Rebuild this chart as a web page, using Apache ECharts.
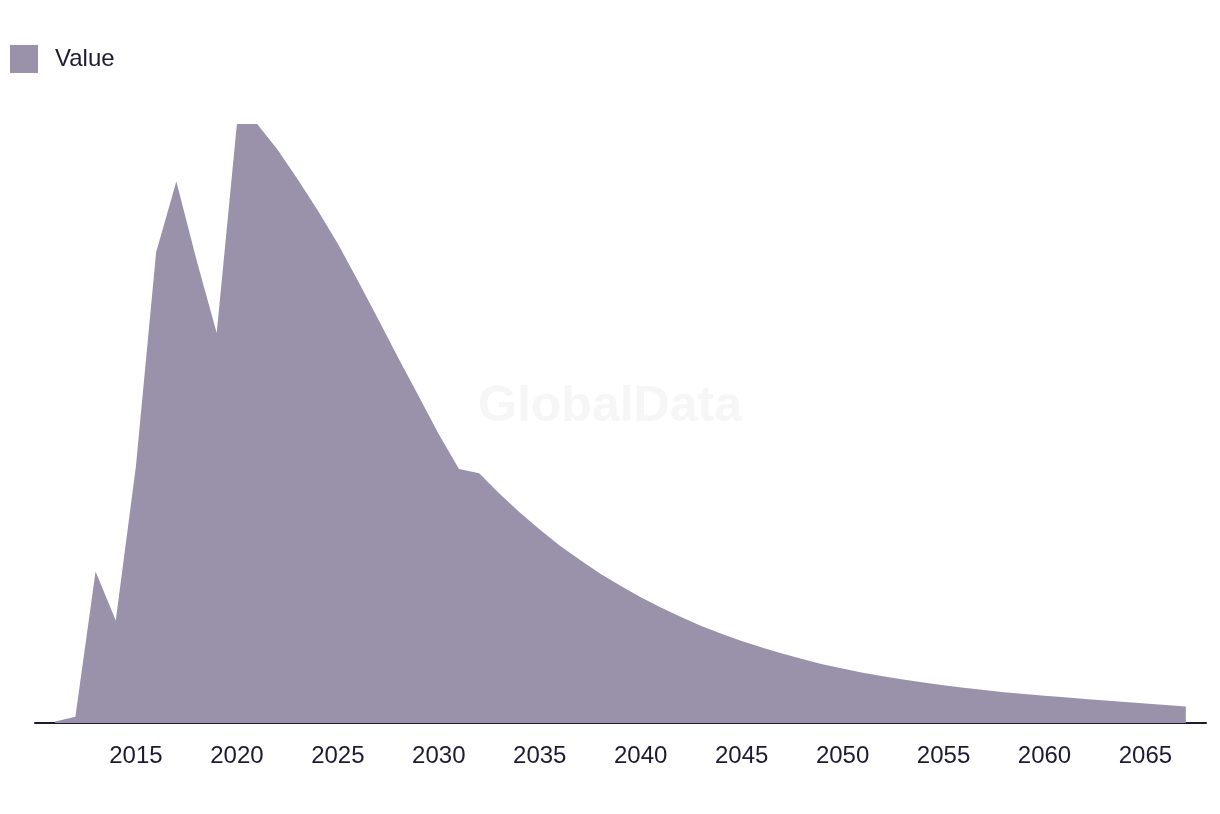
<!DOCTYPE html>
<html>
<head>
<meta charset="utf-8">
<script src="https://cdn.jsdelivr.net/npm/echarts@6/dist/echarts.min.js"></script>
<style>
  html, body { margin: 0; padding: 0; background: #ffffff; }
  #chart { width: 1220px; height: 814px; }
</style>
</head>
<body>
<div id="chart"></div>
<script>
const years = [2011,2012,2013,2014,2015,2016,2017,2018,2019,2020,2021,2022,2023,2024,2025,2026,2027,2028,2029,2030,2031,2032,2033,2034,2035,2036,2037,2038,2039,2040,2041,2042,2043,2044,2045,2046,2047,2048,2049,2050,2051,2052,2053,2054,2055,2056,2057,2058,2059,2060,2061,2062,2063,2064,2065,2066,2067];
const values = [0.25,1.05,25.3,17.1,42.9,78.6,90.4,77.3,65.1,100,100,95.8,90.8,85.6,80.0,73.8,67.4,60.9,54.6,48.2,42.4,41.7,38.3,35.2,32.3,29.6,27.2,24.9,22.9,21.0,19.3,17.7,16.2,14.9,13.7,12.6,11.6,10.7,9.8,9.1,8.4,7.8,7.25,6.75,6.3,5.9,5.5,5.15,4.85,4.55,4.3,4.0,3.75,3.5,3.25,3.0,2.75];
const seriesName = 'Value';
const tickYears = [2015,2020,2025,2030,2035,2040,2045,2050,2055,2060,2065];

const chart = echarts.init(document.getElementById('chart'), null, { renderer: 'canvas' });
const textColor = '#1c1b33';
const fill = '#9a91aa';

chart.setOption({
  animation: false,
  backgroundColor: '#ffffff',
  graphic: [{
    type: 'text',
    style: {
      text: 'GlobalData',
      x: 610, y: 407,
      textAlign: 'center',
      textVerticalAlign: 'middle',
      fontFamily: 'Liberation Sans, Arial, sans-serif',
      fontWeight: 'bold',
      fontSize: 50,
      fill: '#f6f6f6'
    },
    z: -10
  }],
  legend: {
    show: true,
    left: 10,
    top: 45,
    padding: 0,
    itemWidth: 28,
    itemHeight: 28,
    itemGap: 17,
    icon: 'rect',
    textStyle: {
      color: textColor,
      fontSize: 24,
      fontFamily: 'Liberation Sans, Arial, sans-serif',
      padding: [0, 0, 0, 12]
    },
    data: [seriesName]
  },
  grid: {
    left: 35,
    right: 14,
    top: 124,
    bottom: 91,
    containLabel: false
  },
  xAxis: {
    type: 'value',
    min: 2010,
    max: 2068,
    interval: 5,
    axisLine: { show: true, lineStyle: { color: textColor, width: 2 } },
    axisTick: { show: false },
    splitLine: { show: false },
    axisLabel: {
      color: textColor,
      fontSize: 24,
      fontFamily: 'Liberation Sans, Arial, sans-serif',
      margin: 21,
      formatter: function (v) { return tickYears.indexOf(v) >= 0 ? String(v) : ''; }
    }
  },
  yAxis: {
    type: 'value',
    min: 0,
    max: 100,
    show: false,
    splitLine: { show: false }
  },
  series: [{
    name: seriesName,
    type: 'line',
    data: years.map((y, i) => [y, values[i]]),
    showSymbol: false,
    symbol: 'none',
    color: fill,
    lineStyle: { width: 0, color: fill },
    areaStyle: { color: fill, opacity: 1 },
    itemStyle: { color: fill },
    z: 2
  }]
});
</script>
</body>
</html>
